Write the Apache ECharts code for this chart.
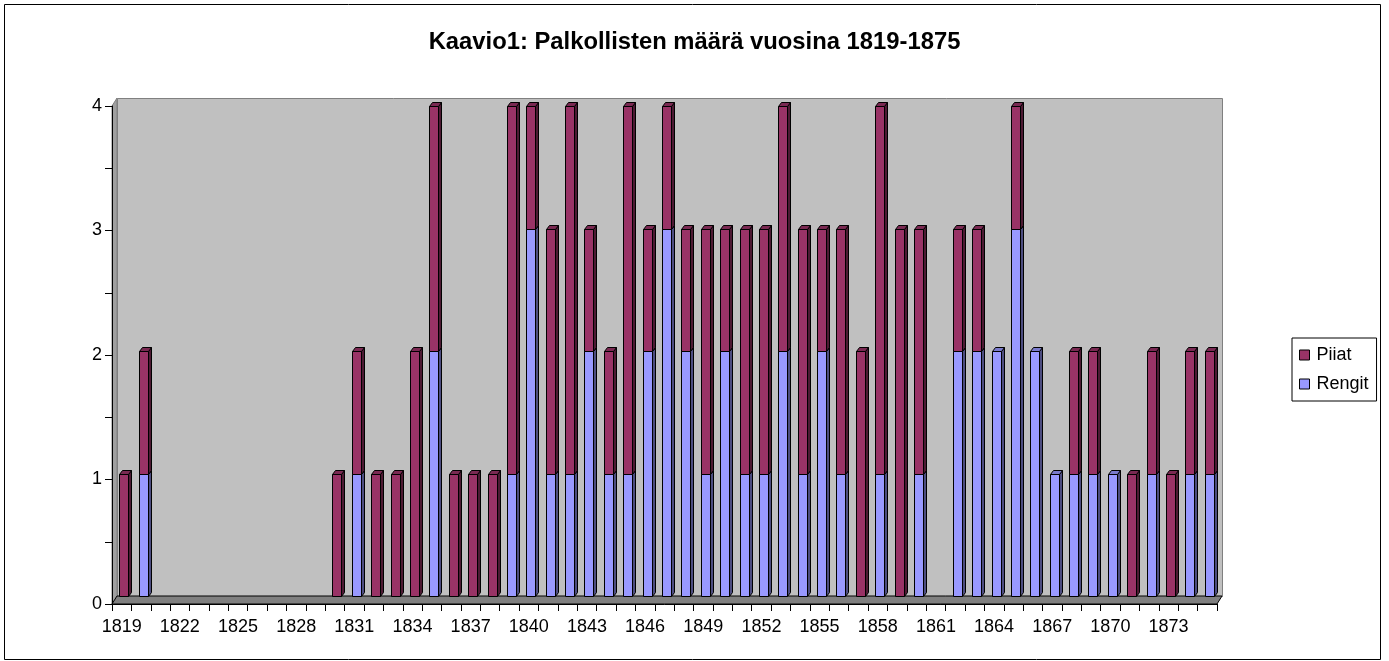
<!DOCTYPE html>
<html>
<head>
<meta charset="utf-8">
<script src="https://cdn.jsdelivr.net/npm/echarts@6/dist/echarts.min.js"></script>
<style>
  html, body { margin: 0; padding: 0; background: #fff; }
  #chart { width: 1389px; height: 661px; }
</style>
</head>
<body>
<div id="chart"></div>
<script>
// vuodet 1819-1875
const years = [
  '1819', '1820', '1821', '1822', '1823', '1824', '1825', '1826', '1827', '1828',
  '1829', '1830', '1831', '1832', '1833', '1834', '1835', '1836', '1837', '1838',
  '1839', '1840', '1841', '1842', '1843', '1844', '1845', '1846', '1847', '1848',
  '1849', '1850', '1851', '1852', '1853', '1854', '1855', '1856', '1857', '1858',
  '1859', '1860', '1861', '1862', '1863', '1864', '1865', '1866', '1867', '1868',
  '1869', '1870', '1871', '1872', '1873', '1874', '1875'
]
const rengit = [
  0, 1,
  0, 0, 0, 0, 0, 0, 0, 0, 0,
  0, 1, 0, 0, 0, 2, 0, 0, 0,
  1, 3, 1, 1, 2, 1, 1, 2, 3, 2,
  1, 2, 1, 1, 2, 1, 2, 1, 0, 1,
  0, 1, 0, 2, 2, 2, 3, 2, 1, 1,
  1, 1, 0, 1, 0, 1, 1
]
const piiat = [
  1, 1,
  0, 0, 0, 0, 0, 0, 0, 0, 0,
  1, 1, 1, 1, 2, 2, 1, 1, 1,
  3, 1, 2, 3, 1, 1, 3, 1, 1, 1,
  2, 1, 2, 2, 2, 2, 1, 2, 2, 3,
  3, 2, 0, 1, 1, 0, 1, 0, 0, 1,
  1, 0, 1, 1, 1, 1, 1
]
const yTicks = [0, 1, 2, 3, 4]

const font = "'Liberation Sans', Arial, sans-serif"
const W = 1389, H = 661
const gridL = 112, gridR = 172, gridT = 106, gridB = 57
// 3D-syvyys (seinä ja lattia)
const depthX = 5, depthY = 8

const chart = echarts.init(document.getElementById('chart'), null, { renderer: 'canvas' })

// 3D-tyylinen pylväs: etu, sivu ja kansi; pylväät seisovat lattian takareunalla
function barRenderer (front, side, top) {
  return function (params, api) {
    const base = api.value(1)
    const val = api.value(2)
    if (val <= base) return
    const yMaxPx = api.coord([0, yTicks[yTicks.length - 1]])[1]
    const yZeroPx = api.coord([0, 0])[1]
    const k = (yZeroPx - depthY - yMaxPx) / (yZeroPx - yMaxPx)
    const py = y => yMaxPx + (y - yMaxPx) * k
    const pTop = api.coord([api.value(0), val])
    const pBase = api.coord([api.value(0), base])
    const w = 9, d = 3, h = 4
    const x0 = Math.round(pTop[0] - w / 2 + 2) + 0.5
    const x1 = x0 + w
    const yT = Math.round(py(pTop[1])) + 0.5
    const yB = Math.round(py(pBase[1])) + 0.5
    return {
      type: 'group',
      children: [
        {
          type: 'polygon',
          shape: { points: [[x1, yB], [x1 + d, yB - h], [x1 + d, yT - h], [x1, yT]] },
          style: { fill: side, stroke: '#000', lineWidth: 1 }
        },
        {
          type: 'polygon',
          shape: { points: [[x0, yT], [x0 + d, yT - h], [x1 + d, yT - h], [x1, yT]] },
          style: { fill: top, stroke: '#000', lineWidth: 1 }
        },
        {
          type: 'rect',
          shape: { x: x0, y: yT, width: w, height: yB - yT },
          style: { fill: front, stroke: '#000', lineWidth: 1 }
        }
      ]
    }
  }
}

const left = gridL, right = W - gridR, topY = gridT, bottom = H - gridB

const option = {
  backgroundColor: '#fff',
  animation: false,
  title: {
    text: 'Kaavio1: Palkollisten määrä vuosina 1819-1875',
    left: 'center',
    top: 25,
    textStyle: { fontFamily: font, fontSize: 23.8, fontWeight: 'bold', color: '#000' }
  },
  legend: {
    orient: 'vertical',
    left: 1292,
    top: 338,
    data: ['Piiat', 'Rengit'],
    icon: 'rect',
    itemWidth: 10,
    itemHeight: 10,
    itemGap: 11,
    padding: [8, 8, 8, 7],
    borderColor: '#000',
    borderWidth: 1,
    itemStyle: { borderColor: '#000', borderWidth: 1 },
    textStyle: { fontFamily: font, fontSize: 18, color: '#000', padding: [0, 0, 0, 2] }
  },
  graphic: [
    {
      type: 'rect',
      z: -10,
      shape: { x: 4.5, y: 4.5, width: 1376, height: 655 },
      style: { fill: '#fff', stroke: '#000', lineWidth: 1 }
    },
    {
      // takaseinä
      type: 'rect',
      z: -5,
      shape: { x: left + depthX + 0.5, y: topY - depthY + 0.5, width: right - left, height: bottom - topY },
      style: { fill: '#c0c0c0', stroke: '#808080', lineWidth: 1 }
    },
    {
      // sivuseinä
      type: 'polygon',
      z: -5,
      shape: { points: [[left, topY], [left + depthX, topY - depthY], [left + depthX, bottom - depthY], [left, bottom]] },
      style: { fill: '#a0a0a0', stroke: '#808080', lineWidth: 1 }
    },
    {
      // lattia
      type: 'polygon',
      z: -4,
      shape: { points: [[left, bottom], [left + depthX, bottom - depthY], [right + depthX, bottom - depthY], [right, bottom]] },
      style: { fill: '#808080', stroke: '#000', lineWidth: 1 }
    }
  ],
  grid: {
    left: gridL,
    right: gridR,
    top: gridT,
    bottom: gridB,
    containLabel: false
  },
  xAxis: {
    type: 'category',
    data: years,
    boundaryGap: true,
    axisLine: { show: true, lineStyle: { color: '#000', width: 1 } },
    axisTick: { show: true, interval: 0, length: 7, lineStyle: { color: '#000' } },
    axisLabel: {
      interval: 2,
      fontFamily: font,
      fontSize: 18,
      color: '#000',
      margin: 14
    },
    splitLine: { show: false }
  },
  yAxis: {
    type: 'value',
    min: yTicks[0],
    max: yTicks[yTicks.length - 1],
    interval: 1,
    axisLine: { show: true, lineStyle: { color: '#000', width: 1 } },
    axisTick: { show: true, length: 7, lineStyle: { color: '#000' } },
    minorTick: { show: true, splitNumber: 2, length: 7, lineStyle: { color: '#000' } },
    axisLabel: { fontFamily: font, fontSize: 18, color: '#000', margin: 10 },
    splitLine: { show: false }
  },
  series: [
    {
      name: 'Rengit',
      type: 'custom',
      itemStyle: { color: '#9999ff' },
      renderItem: barRenderer('#9999ff', '#4d4d80', '#7a7acc'),
      encode: { x: 0, y: [1, 2] },
      data: rengit.map((v, i) => [i, 0, v])
    },
    {
      name: 'Piiat',
      type: 'custom',
      itemStyle: { color: '#993366' },
      renderItem: barRenderer('#993366', '#4d1a33', '#7a2952'),
      encode: { x: 0, y: [1, 2] },
      data: piiat.map((v, i) => [i, rengit[i], rengit[i] + v])
    }
  ]
}

chart.setOption(option)
</script>
</body>
</html>
